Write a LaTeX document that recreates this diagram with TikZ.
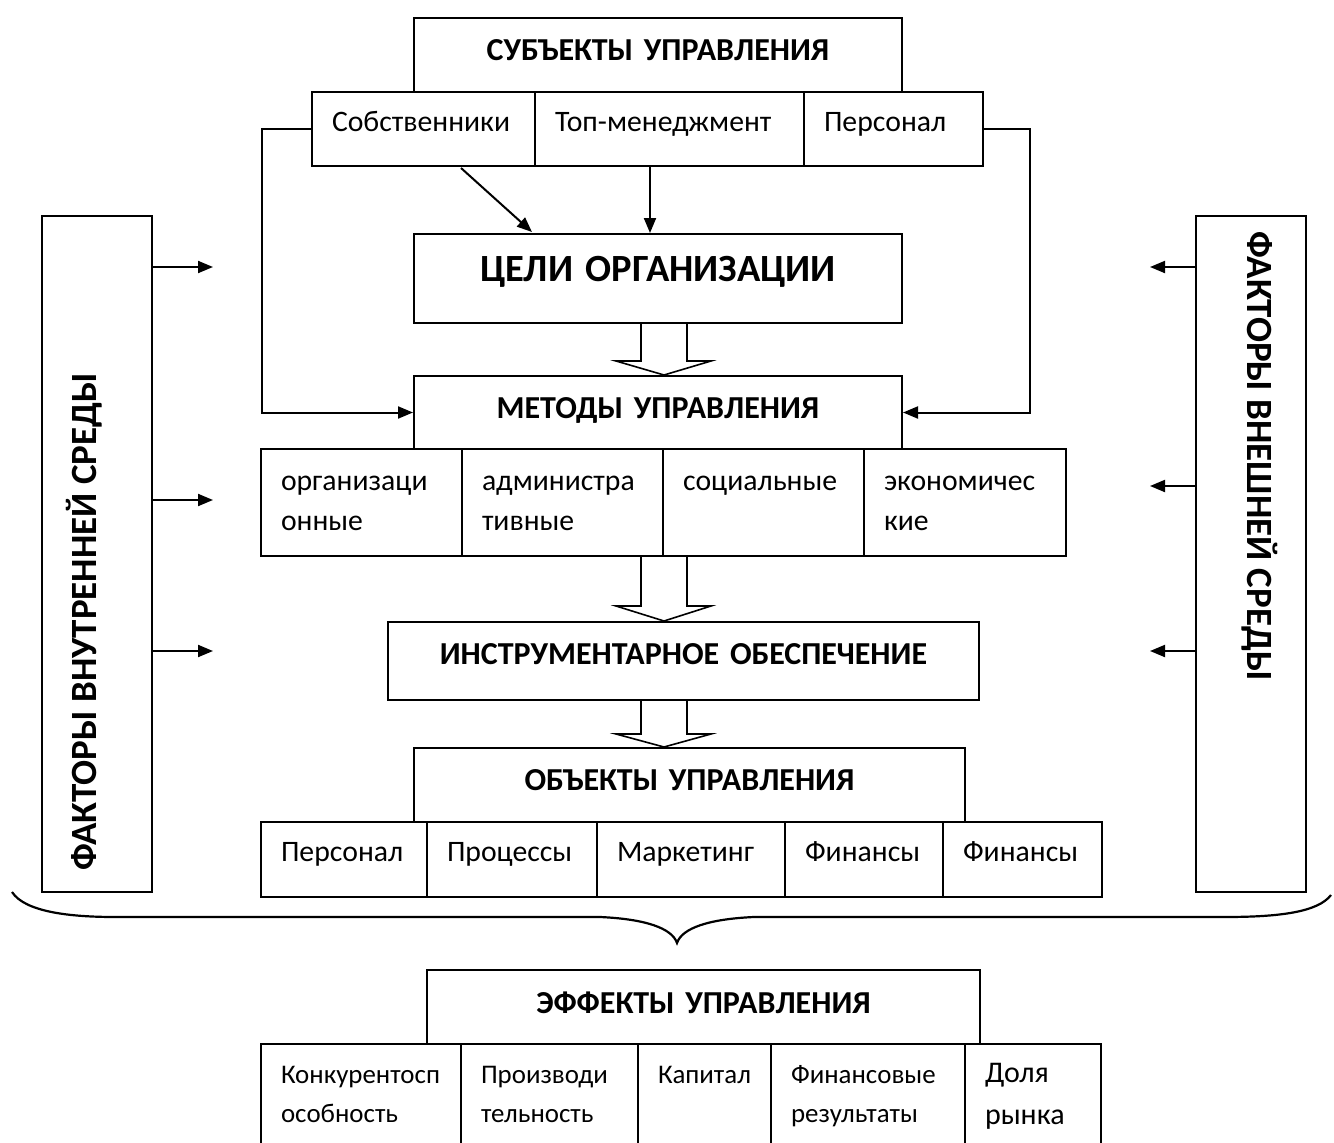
\documentclass[tikz,border=0pt]{standalone}
\usepackage{fontspec}
\setmainfont{Carlito}
\usetikzlibrary{arrows.meta,calc}
\newcommand\mkcell[7]{%
  \pgfmathsetmacro\mkcw{#4-#2}%
  \pgfmathsetmacro\mkch{#5-#3}%
  \pgfmathsetmacro\mktw{#4-#2-40}%
  \node[#6, minimum width=\mkcw pt, minimum height=\mkch pt, text width=\mktw pt, anchor=north west] (#1) at (#2,#3) {#7};}
\begin{document}
\begin{tikzpicture}[x=1pt,y=-1pt,
  cell/.style={draw, line width=2pt, inner xsep=20pt, inner ysep=0pt, align=left},
  reg/.style={cell, font=\fontsize{29.7}{40}\selectfont},
  one/.style={reg, text height=20pt, text depth=15pt},
  head/.style={cell, align=center, font=\fontsize{32}{38}\selectfont\bfseries, text height=20pt, text depth=10pt},
  eff/.style={cell, font=\fontsize{26.9}{39}\selectfont},
  fbox/.style={draw, line width=2pt, inner sep=0pt, anchor=north west},
  ftext/.style={font=\fontsize{37}{44}\selectfont\bfseries, inner sep=0pt, text height=23pt, text depth=0pt},
  arr/.style={line width=2pt, -{Triangle[length=15pt,width=12pt]}},
  hol/.style={line width=1.6pt, fill=white, line join=miter},
  brace/.style={line width=2.2pt}
]
\useasboundingbox (0,0) rectangle (1334,1143);
% subjects
\mkcell{subj}{413}{17}{901}{91}{head}{СУБЪЕКТЫ УПРАВЛЕНИЯ}
\mkcell{own}{311}{91}{534}{165}{one}{Собственники}
\mkcell{top}{534}{91}{803}{165}{one}{Топ-менеджмент}
\mkcell{pers}{803}{91}{982}{165}{one}{Персонал}
% goals
\mkcell{goals}{413}{233}{901}{322}{head, font=\fontsize{38.5}{44}\selectfont\bfseries, text height=24pt, text depth=19pt}{ЦЕЛИ ОРГАНИЗАЦИИ}
% methods
\mkcell{meth}{413}{375}{901}{448}{head, text depth=8pt}{МЕТОДЫ УПРАВЛЕНИЯ}
\mkcell{m1}{260}{448}{461}{555}{reg}{организаци\strut\\онные\strut}
\mkcell{m2}{461}{448}{662}{555}{reg}{администра\strut\\тивные\strut}
\mkcell{m3}{662}{448}{863}{555}{reg}{социальные\strut\\\strut}
\mkcell{m4}{863}{448}{1065}{555}{reg, inner xsep=18pt}{экономичес\strut\\кие\strut}
% instruments
\mkcell{instr}{387}{621}{978}{699}{head, text depth=14pt}{ИНСТРУМЕНТАРНОЕ ОБЕСПЕЧЕНИЕ}
% objects
\mkcell{obj}{413}{747}{964}{821}{head}{ОБЪЕКТЫ УПРАВЛЕНИЯ}
\mkcell{o1}{260}{821}{426}{896}{one, text depth=16pt}{Персонал}
\mkcell{o2}{426}{821}{596}{896}{one, text depth=16pt}{Процессы}
\mkcell{o3}{596}{821}{784}{896}{one, text depth=16pt}{Маркетинг}
\mkcell{o4}{784}{821}{942}{896}{one, text depth=16pt}{Финансы}
\mkcell{o5}{942}{821}{1101}{896}{one, text depth=16pt}{Финансы}
% effects
\mkcell{eff}{426}{969}{979}{1043}{head, text depth=8pt}{ЭФФЕКТЫ УПРАВЛЕНИЯ}
\mkcell{e1}{260}{1043}{460}{1146}{eff}{Конкурентосп\strut\\особность\strut}
\mkcell{e2}{460}{1043}{637}{1146}{eff}{Производи\strut\\тельность\strut}
\mkcell{e3}{637}{1043}{770}{1146}{eff}{Капитал\strut\\\strut}
\mkcell{e4}{770}{1043}{964}{1146}{eff}{Финансовые\strut\\результаты\strut}
\mkcell{e5}{964}{1043}{1100}{1146}{eff, font=\fontsize{30}{42}\selectfont}{Доля\strut\\рынка\strut}
% factor boxes
\node[fbox, minimum width=110pt, minimum height=676pt] (inf) at (41,215) {};
\node[fbox, minimum width=110pt, minimum height=676pt] (ext) at (1195,215) {};
\node[ftext, rotate=90] (inft) at (85,622) {ФАКТОРЫ ВНУТРЕННЕЙ СРЕДЫ};
\node[ftext, rotate=-90] (extt) at (1259,456) {ФАКТОРЫ ВНЕШНЕЙ СРЕДЫ};
% free ends of factor arrows
\coordinate (l1) at (213,267);
\coordinate (l2) at (213,500);
\coordinate (l3) at (213,651);
\coordinate (r1) at (1150,267);
\coordinate (r2) at (1150,486);
\coordinate (r3) at (1150,651);
\foreach \c in {l1,l2,l3} \draw[arr] (inf.east |- \c) -- (\c);
\foreach \c in {r1,r2,r3} \draw[arr] (ext.west |- \c) -- (\c);
% subject arrows
\coordinate (tx) at (650,0);
\draw[arr] ($(own.south west)+(150,1)$) -- ($(goals.north west)+(119,-1)$);
\draw[arr] (tx |- top.south) -- (tx |- goals.north);
\draw[arr] (own.west) -- ++(-49,0) |- (meth.west);
\draw[arr] (pers.east) -- ++(46,0) |- (meth.east);
% hollow arrows
\coordinate (ax) at (664,0);
\draw[hol] ($(ax |- goals.south)+(-23,0)$) -- ($(ax |- meth.north)+(-23,-14)$) -- ($(ax |- meth.north)+(-48,-14)$) -- (ax |- meth.north) -- ($(ax |- meth.north)+(47,-14)$) -- ($(ax |- meth.north)+(23,-14)$) -- ($(ax |- goals.south)+(23,0)$);
\draw[hol] ($(ax |- m3.south)+(-23,0)$) -- ($(ax |- instr.north)+(-23,-15)$) -- ($(ax |- instr.north)+(-48,-15)$) -- (ax |- instr.north) -- ($(ax |- instr.north)+(47,-15)$) -- ($(ax |- instr.north)+(23,-15)$) -- ($(ax |- m3.south)+(23,0)$);
\draw[hol] ($(ax |- instr.south)+(-23,0)$) -- ($(ax |- obj.north)+(-23,-13)$) -- ($(ax |- obj.north)+(-48,-13)$) -- (ax |- obj.north) -- ($(ax |- obj.north)+(47,-13)$) -- ($(ax |- obj.north)+(23,-13)$) -- ($(ax |- instr.south)+(23,0)$);
% brace
\coordinate (btip) at (677,943);
\draw[brace] (12,892) .. controls (25,912) and (70,917) .. (115,917) -- (600,917) .. controls (645,919) and (672,928) .. (btip) .. controls (682,928) and (709,919) .. (754,917) -- (1225,917) .. controls (1280,917) and (1318,912) .. (1331,895);
\end{tikzpicture}
\end{document}
